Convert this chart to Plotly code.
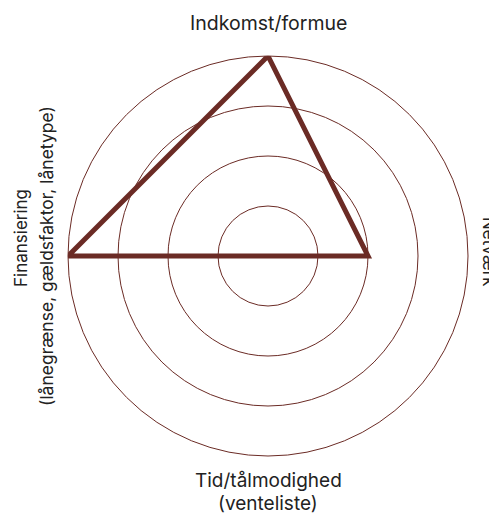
import plotly.graph_objects as go

categories = ["Indkomst/formue", "Netværk", "Tid/tålmodighed (venteliste)",
              "Finansiering (lånegrænse, gældsfaktor, lånetype)"]
label_lines = [["Indkomst/formue"], ["Netværk"],
               ["Tid/tålmodighed", "(venteliste)"],
               ["Finansiering", "(lånegrænse, gældsfaktor, lånetype)"]]
values = [4, 2, 0, 4]
grid_levels = [1, 2, 3, 4]

W, H = 497, 514
brown = "#6b2b25"
OFF = 8  # page body margin

theta = categories + [categories[0]]
r = values + [values[0]]

cx, cy, R = 268 - OFF, 256 - OFF, 200

fig = go.Figure()
fig.add_trace(go.Scatterpolar(
    r=r, theta=theta, mode="lines",
    line=dict(color=brown, width=5),
    hoverinfo="skip", showlegend=False,
))


def px(x):
    return (x - OFF) / W


def py(y):
    return 1 - (y - OFF) / H


def ann(text, x, y, angle=0, size=17):
    return dict(text=text, x=px(x), y=py(y), xref="paper", yref="paper",
                showarrow=False, xanchor="center", yanchor="middle", textangle=angle,
                font=dict(size=size))


annotations = [
    ann(label_lines[0][0], 268, 23, size=19.5),
    ann(label_lines[1][0], 489, 252, 90, size=17),
    ann(label_lines[2][0], 268, 480, size=19),
    ann(label_lines[2][1], 268, 503, size=19),
    ann(label_lines[3][0], 21, 238, -90, size=17),
    ann(label_lines[3][1], 46, 256, -90, size=17.5),
]

fig.update_layout(
    width=W, height=H,
    margin=dict(l=0, r=0, t=0, b=0),
    paper_bgcolor="white",
    plot_bgcolor="white",
    font=dict(family="Inter, sans-serif", size=17, color="#222222"),
    polar=dict(
        domain=dict(x=[(cx - R) / W, (cx + R) / W], y=[1 - (cy + R) / H, 1 - (cy - R) / H]),
        bgcolor="white",
        radialaxis=dict(range=[0, 4], tickvals=grid_levels, showticklabels=False,
                        showline=False, ticks="", gridcolor=brown, gridwidth=1),
        angularaxis=dict(rotation=90, direction="clockwise", showgrid=False,
                         showline=True, linecolor=brown, linewidth=1,
                         showticklabels=False, ticks="",
                         categoryorder="array", categoryarray=categories),
    ),
    annotations=annotations,
)

fig.write_html("out.html")
